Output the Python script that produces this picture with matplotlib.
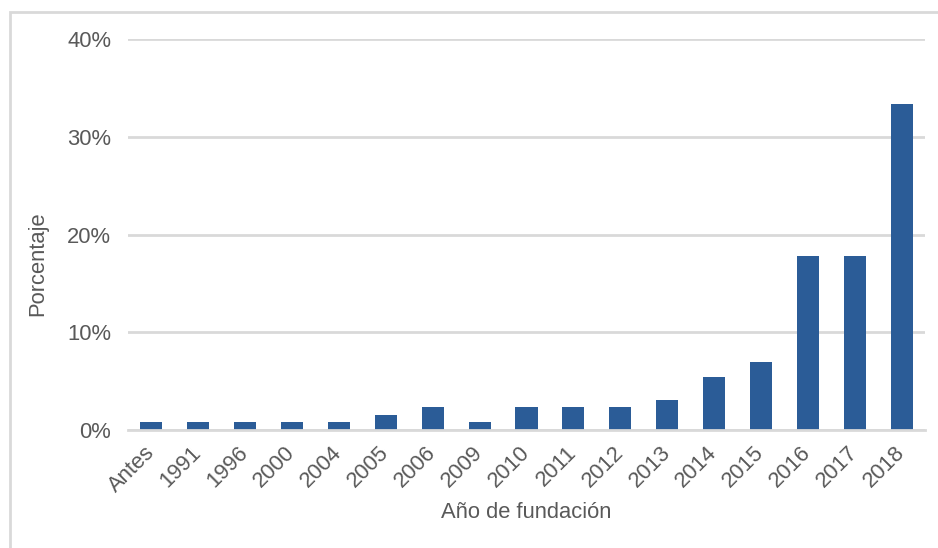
import matplotlib
matplotlib.use("Agg")
import matplotlib.pyplot as plt
from matplotlib.patches import Rectangle
from matplotlib.ticker import FuncFormatter

categories = ["Antes", "1991", "1996", "2000", "2004", "2005", "2006", "2009",
              "2010", "2011", "2012", "2013", "2014", "2015", "2016", "2017", "2018"]
porcentaje = [0.78, 0.78, 0.78, 0.78, 0.78, 1.55, 2.33, 0.78,
              2.33, 2.33, 2.33, 3.10, 5.43, 6.98, 17.83, 17.83, 33.33]
y_ticks = [0, 10, 20, 30, 40]

plt.rcParams['font.family'] = ['Liberation Sans', 'DejaVu Sans']
text_color = "#595959"
grid_color = "#D9D9D9"
bar_color = "#2B5C97"
fs = 15.8

W, H = 938, 548
fig = plt.figure(figsize=(W / 100, H / 100), dpi=100)
fig.patches.append(Rectangle((10 / W, -0.1), 1.2, (H - 12) / H + 0.1,
                             transform=fig.transFigure, fill=False,
                             edgecolor=grid_color, linewidth=2))

ax = fig.add_axes([128 / W, (H - 430) / H, (925 - 128) / W, (430 - 39.3) / H])
x = list(range(len(categories)))
ax.bar(x, porcentaje, width=0.47, color=bar_color, zorder=3)
ax.set_xlim(-0.5, len(categories) - 0.5)
ax.set_ylim(0, 40)
ax.set_yticks(y_ticks)
ax.yaxis.set_major_formatter(FuncFormatter(lambda v, p: f"{int(v)}%"))
ax.grid(axis='y', color=grid_color, linewidth=2, zorder=0)
for s in ['top', 'right', 'left']:
    ax.spines[s].set_visible(False)
ax.spines['bottom'].set_color(grid_color)
ax.spines['bottom'].set_linewidth(2)
ax.spines['bottom'].set_zorder(4)
ax.tick_params(axis='both', length=0, labelsize=fs, labelcolor=text_color)
ax.tick_params(axis='y', pad=12)
ax.set_xticks(x)
ax.set_xticklabels(categories, rotation=45, ha='right', va='center',
                   rotation_mode='anchor')
ax.tick_params(axis='x', pad=14)
ax.set_xlabel("Año de fundación", fontsize=fs, color=text_color, labelpad=4)
ax.set_ylabel("Porcentaje", fontsize=fs, color=text_color, labelpad=14)
ax.yaxis.label.set_y(0.425)

fig.savefig("out.png", dpi=100)
